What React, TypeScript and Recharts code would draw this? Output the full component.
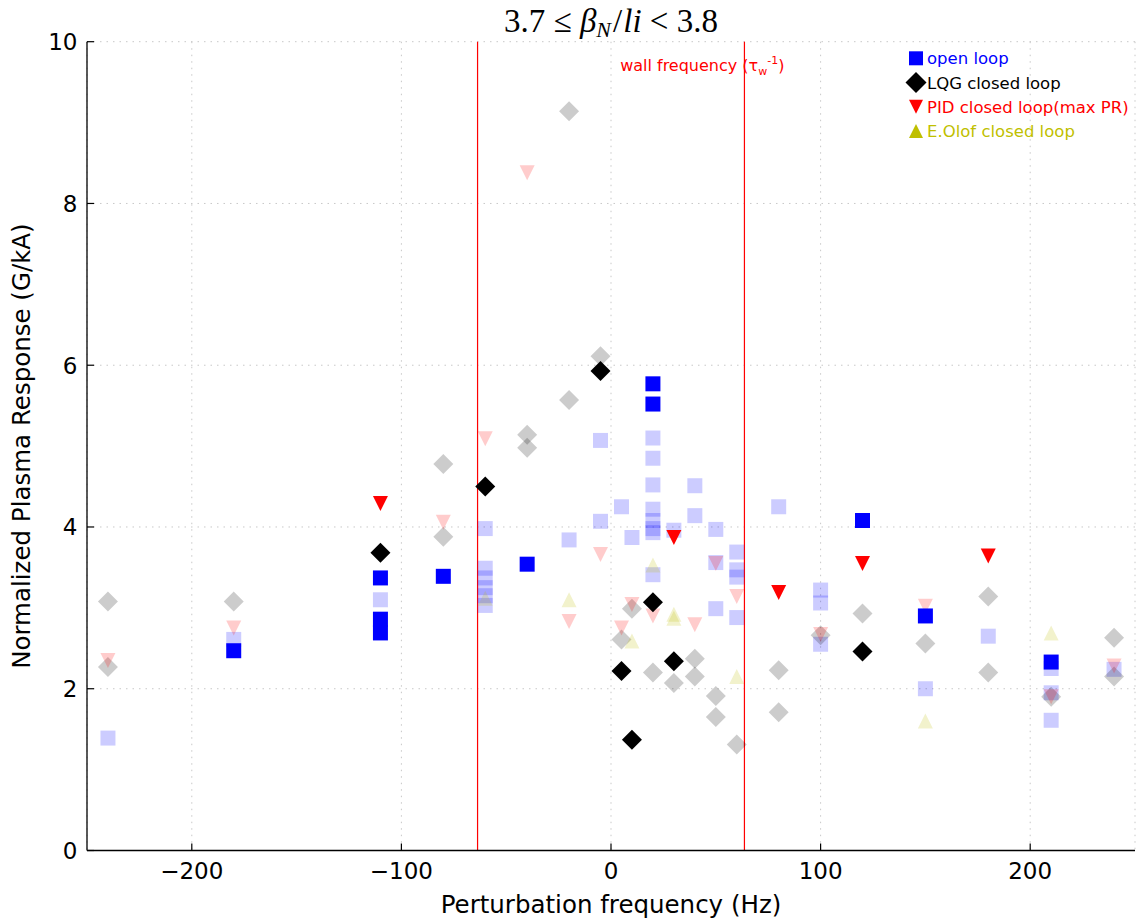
import React from 'react';
import {
  ScatterChart,
  Scatter,
  XAxis,
  YAxis,
  CartesianGrid,
  ReferenceLine,
  Legend,
  Customized,
} from 'recharts';

// ---------- data ----------
const xTicks = [-200, -100, 0, 100, 200];
const yTicks = [0, 2, 4, 6, 8, 10];
const wallFrequency = 63.66;

// open loop (current, solid)
const openLoopFreq = [-180, -110, -110, -110, -80, -40, 20, 20, 120, 150, 210];
const openLoopResp = [2.47, 3.37, 2.86, 2.69, 3.39, 3.54, 5.77, 5.52, 4.08, 2.9, 2.33];

// open loop (faded)
const openLoopFadedFreq = [
  -240, -180, -110, -60, -60, -60, -60, -60, -60, -20, -5, -5, 5, 10,
  20, 20, 20, 20, 20, 20, 20, 20, 30, 40, 40, 50, 50, 50, 60, 60, 60, 60,
  80, 100, 100, 100, 150, 180, 210, 210, 210, 240,
];
const openLoopFadedResp = [
  1.39, 2.61, 3.1, 3.98, 3.49, 3.37, 3.25, 3.15, 3.03, 3.84, 5.07, 4.07, 4.25, 3.87,
  5.1, 4.85, 4.52, 4.22, 4.08, 3.98, 3.93, 3.41, 3.96, 4.51, 4.14, 3.97, 3.56, 2.99,
  3.69, 3.47, 3.38, 2.88, 4.25, 3.22, 3.06, 2.55, 2.0, 2.65, 2.25, 1.95, 1.61, 2.24,
];

// LQG closed loop (solid)
const lqgFreq = [-110, -60, -5, 5, 10, 20, 30, 120];
const lqgResp = [3.68, 4.5, 5.93, 2.22, 1.37, 3.07, 2.34, 2.46];

// LQG closed loop (faded)
const lqgFadedFreq = [
  -240, -240, -180, -80, -80, -40, -40, -20, -20, -5, 5, 10, 20, 30, 40, 40,
  50, 50, 60, 80, 80, 100, 120, 150, 180, 180, 210, 240, 240,
];
const lqgFadedResp = [
  3.08, 2.27, 3.08, 4.78, 3.88, 5.14, 4.98, 9.14, 5.57, 6.11, 2.61, 2.99, 2.2, 2.07, 2.37, 2.15,
  1.91, 1.65, 1.31, 2.23, 1.71, 2.66, 2.93, 2.56, 3.14, 2.2, 1.9, 2.63, 2.15,
];

// PID closed loop (max PR) (solid)
const pidFreq = [-110, 30, 80, 120, 180];
const pidResp = [4.29, 3.87, 3.19, 3.55, 3.64];

// PID closed loop (faded)
const pidFadedFreq = [-240, -180, -80, -60, -40, -20, -5, 5, 10, 20, 40, 50, 60, 100, 150, 210, 240];
const pidFadedResp = [2.35, 2.75, 4.06, 5.09, 8.38, 2.83, 3.66, 2.75, 3.04, 2.9, 2.79, 3.55, 3.14, 2.67, 3.02, 1.9, 2.28];

// E.Olof closed loop (faded only)
const olofFadedFreq = [-60, -20, 10, 20, 30, 30, 60, 150, 210];
const olofFadedResp = [3.12, 3.1, 2.59, 3.53, 2.92, 2.87, 2.15, 1.6, 2.69];

const legendItems = [
  { label: 'open loop', color: '#0000ff', kind: 'square' },
  { label: 'LQG closed loop', color: '#000000', kind: 'diamond' },
  { label: 'PID closed loop(max PR)', color: '#ff0000', kind: 'down' },
  { label: 'E.Olof closed loop', color: '#bfbf00', kind: 'up' },
];

const zip = (xs: number[], ys: number[]) => xs.map((x, i) => ({ x, y: ys[i] }));

// ---------- layout ----------
const W = 1138;
const H = 922;
const M = { top: 41.7, right: 3, bottom: 11.5, left: 27 };
const Y_AXIS_W = 60;
const X_AXIS_H = 60;
const SANS = 'DejaVu Sans, Verdana, sans-serif';
const SERIF = 'Liberation Serif, Times New Roman, serif';
const TICK_FS = 23;
const LABEL_FS = 24.5;
const TICK_LEN = 7;

const fmt = (v: number) => (v < 0 ? '\u2212' + Math.abs(v) : String(v));

function markerPath(kind: string, cx: number, cy: number, s: number) {
  const h = s / 2;
  switch (kind) {
    case 'diamond':
      return `M${cx},${cy - h}L${cx + h},${cy}L${cx},${cy + h}L${cx - h},${cy}Z`;
    case 'down':
      return `M${cx - h},${cy - h}L${cx + h},${cy - h}L${cx},${cy + h}Z`;
    case 'up':
      return `M${cx - h},${cy + h}L${cx + h},${cy + h}L${cx},${cy - h}Z`;
    default:
      return `M${cx - h},${cy - h}L${cx + h},${cy - h}L${cx + h},${cy + h}L${cx - h},${cy + h}Z`;
  }
}

const makeShape = (kind: string, color: string, opacity: number) => (props: any) => {
  const { cx, cy } = props;
  if (cx == null || cy == null) return <g />;
  const size = kind === 'diamond' ? 20 : 15;
  return <path d={markerPath(kind, cx, cy, size)} fill={color} fillOpacity={opacity} stroke="none" />;
};

const BottomTick = (props: any) => {
  const { x, y, payload } = props;
  return (
    <g>
      <line x1={x} y1={y} x2={x} y2={y - TICK_LEN} stroke="#000" strokeWidth={1.2} />
      <text x={x} y={y + 28} textAnchor="middle" fontSize={TICK_FS} fontFamily={SANS} fill="#000">
        {fmt(payload.value)}
      </text>
    </g>
  );
};

const TopTick = (props: any) => {
  const { x, y } = props;
  return <line x1={x} y1={y} x2={x} y2={y + TICK_LEN} stroke="#000" strokeWidth={1.2} />;
};

const LeftTick = (props: any) => {
  const { x, y, payload } = props;
  return (
    <g>
      <line x1={x} y1={y} x2={x + TICK_LEN} y2={y} stroke="#000" strokeWidth={1.2} />
      <text x={x - 9.5} y={y + 8.4} textAnchor="end" fontSize={TICK_FS} fontFamily={SANS} fill="#000">
        {fmt(payload.value)}
      </text>
    </g>
  );
};

const RightTick = (props: any) => {
  const { x, y } = props;
  return <line x1={x} y1={y} x2={x - TICK_LEN} y2={y} stroke="#000" strokeWidth={1.2} />;
};

const Title = () => {
  const cx = (M.left + Y_AXIS_W + (W - M.right)) / 2;
  return (
    <text x={cx} y={32.3} textAnchor="middle" fontFamily={SERIF} fontSize={33} fill="#000">
      3.7 ≤ <tspan fontStyle="italic">β</tspan>
      <tspan fontStyle="italic" fontSize={22} dy={5}>N</tspan>
      <tspan dy={-5} dx={2}>/</tspan>
      <tspan fontStyle="italic" dx={1}>li</tspan> {'<'} 3.8
    </text>
  );
};

const WallLabel = (props: any) => {
  const vb = props.viewBox || {};
  const x = (vb.x ?? 0) - 124.3;
  const y = (vb.y ?? 0) + 29.5;
  return (
    <text x={x} y={y} fill="#ff0000" fontSize={16} fontFamily={SANS}>
      wall frequency (τ
      <tspan fontSize={11} dy={4}>w</tspan>
      <tspan fontSize={11} dy={-11}>-1</tspan>
      <tspan dy={7}>)</tspan>
    </text>
  );
};

const LegendBox = () => (
  <svg width={240} height={100} style={{ display: 'block', overflow: 'visible' }}>
    {legendItems.map((it, i) => {
      const cy = 12.3 + i * 24.2;
      const size = it.kind === 'diamond' ? 21 : 14;
      return (
        <g key={it.label}>
          <path d={markerPath(it.kind, 8, cy, size)} fill={it.color} />
          <text x={19} y={cy + 6} fontSize={16.5} fontFamily={SANS} fill={it.color}>
            {it.label}
          </text>
        </g>
      );
    })}
  </svg>
);

export default function App() {
  return (
    <div style={{ position: 'absolute', left: 0, top: 0, width: W, height: H, background: '#fff', overflow: 'hidden' }}>
      <ScatterChart width={W} height={H} margin={M}>
        <CartesianGrid stroke="#c8c8c8" strokeDasharray="1.5 5" strokeWidth={1} />
        <XAxis
          type="number"
          dataKey="x"
          domain={[-250, 250]}
          ticks={xTicks}
          interval={0}
          allowDataOverflow
          height={X_AXIS_H}
          tickLine={false}
          tickSize={0}
          tickMargin={0}
          tick={<BottomTick />}
          axisLine={{ stroke: '#000', strokeWidth: 1.3 }}
          label={(p: any) => {
            const vb = p.viewBox || {};
            return (
              <text
                x={(vb.x ?? 0) + (vb.width ?? 0) / 2}
                y={(vb.y ?? 0) + 62}
                textAnchor="middle"
                fontSize={LABEL_FS}
                fontFamily={SANS}
                fill="#000"
              >
                Perturbation frequency (Hz)
              </text>
            );
          }}
        />
        <XAxis
          xAxisId="top"
          orientation="top"
          type="number"
          dataKey="x"
          domain={[-250, 250]}
          ticks={xTicks}
          interval={0}
          allowDataOverflow
          height={0}
          tickLine={false}
          tickSize={0}
          tickMargin={0}
          tick={<TopTick />}
          axisLine={{ stroke: '#000', strokeWidth: 1.3 }}
        />
        <YAxis
          type="number"
          dataKey="y"
          domain={[0, 10]}
          ticks={yTicks}
          interval={0}
          allowDataOverflow
          width={Y_AXIS_W}
          tickLine={false}
          tickSize={0}
          tickMargin={0}
          tick={<LeftTick />}
          axisLine={{ stroke: '#000', strokeWidth: 1.3 }}
          label={(p: any) => {
            const vb = p.viewBox || {};
            const x = (vb.x ?? 0) + 3.1;
            const y = (vb.y ?? 0) + (vb.height ?? 0) / 2;
            return (
              <text
                x={x}
                y={y}
                transform={`rotate(-90, ${x}, ${y})`}
                textAnchor="middle"
                fontSize={LABEL_FS}
                fontFamily={SANS}
                fill="#000"
              >
                Normalized Plasma Response (G/kA)
              </text>
            );
          }}
        />
        <YAxis
          yAxisId="right"
          orientation="right"
          type="number"
          dataKey="y"
          domain={[0, 10]}
          ticks={yTicks}
          interval={0}
          allowDataOverflow
          width={0}
          tickLine={false}
          tickSize={0}
          tickMargin={0}
          tick={<RightTick />}
          axisLine={{ stroke: '#000', strokeWidth: 1.3 }}
        />
        <ReferenceLine x={-wallFrequency} stroke="#ff0000" strokeWidth={1.2} />
        <ReferenceLine x={wallFrequency} stroke="#ff0000" strokeWidth={1.2} label={WallLabel} />

        <Scatter name="open loop (faded)" data={zip(openLoopFadedFreq, openLoopFadedResp)} shape={makeShape('square', '#0000ff', 0.2)} isAnimationActive={false} legendType="none" />
        <Scatter name="LQG closed loop (faded)" data={zip(lqgFadedFreq, lqgFadedResp)} shape={makeShape('diamond', '#000000', 0.2)} isAnimationActive={false} legendType="none" />
        <Scatter name="PID closed loop (faded)" data={zip(pidFadedFreq, pidFadedResp)} shape={makeShape('down', '#ff0000', 0.2)} isAnimationActive={false} legendType="none" />
        <Scatter name="E.Olof closed loop (faded)" data={zip(olofFadedFreq, olofFadedResp)} shape={makeShape('up', '#bfbf00', 0.2)} isAnimationActive={false} legendType="none" />
        <Scatter name="open loop" data={zip(openLoopFreq, openLoopResp)} shape={makeShape('square', '#0000ff', 1)} isAnimationActive={false} />
        <Scatter name="LQG closed loop" data={zip(lqgFreq, lqgResp)} shape={makeShape('diamond', '#000000', 1)} isAnimationActive={false} />
        <Scatter name="PID closed loop(max PR)" data={zip(pidFreq, pidResp)} shape={makeShape('down', '#ff0000', 1)} isAnimationActive={false} />

        <Legend
          layout="horizontal"
          verticalAlign="middle"
          align="center"
          content={<LegendBox />}
          wrapperStyle={{ position: 'absolute', left: 908, top: 46, width: 240, height: 100, margin: 0, padding: 0 }}
        />
        <Customized component={<Title />} />
      </ScatterChart>
    </div>
  );
}
